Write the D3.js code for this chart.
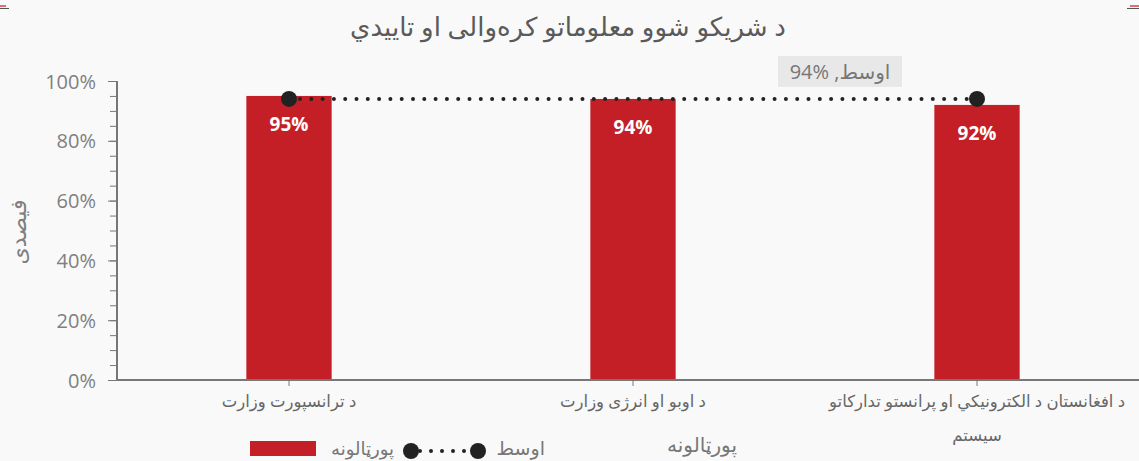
<!DOCTYPE html>
<html><head><meta charset="utf-8">
<script src="https://cdn.jsdelivr.net/npm/d3@7"></script>
<style>
html,body{margin:0;padding:0;background:#f9f9f9;}
svg{display:block;}
text{font-family:"Open Sans","DejaVu Sans",sans-serif;}
</style></head>
<body>
<svg id="c" width="1139" height="461"></svg>
<script>
const title = "د شريکو شوو معلوماتو کره‌والی او تاييدي";
const categories = ["د ترانسپورت وزارت", "د اوبو او انرژی وزارت", "د افغانستان د الکترونيکي او پرانستو تدارکاتو سيستم"];
const categoryLines = [["د ترانسپورت وزارت"], ["د اوبو او انرژی وزارت"], ["د افغانستان د الکترونيکي او پرانستو تدارکاتو", "سيستم"]];
const values = [95, 94, 92];
const average = 94;
const yTicks = [0, 20, 40, 60, 80, 100];
const yMinorTicks = [0,5,10,15,20,25,30,35,40,45,50,55,60,65,70,75,80,85,90,95,100];
const yLabel = "فیصدی";
const seriesName = "پورټالونه";
const avgName = "اوسط";
const legendTitle = "پورټالونه";

const svg = d3.select("#c");
const W = 1139, H = 461;
svg.append("rect").attr("width", W).attr("height", H).attr("fill", "#f9f9f9");

// corner marks
svg.append("rect").attr("x",0).attr("y",5).attr("width",6).attr("height",2).attr("fill","#e07070");
svg.append("rect").attr("x",0).attr("y",8).attr("width",9).attr("height",1).attr("fill","#555");
svg.append("rect").attr("x",1130).attr("y",5).attr("width",9).attr("height",2).attr("fill","#e07070");
svg.append("rect").attr("x",1127).attr("y",8).attr("width",12).attr("height",1).attr("fill","#555");

const x = d3.scaleBand().domain(categories).range([117, 1149]).padding(0);
const y = d3.scaleLinear().domain([0, 100]).range([380, 81]);
const barW = x.bandwidth() * 0.248;
const cx = d => x(d) + x.bandwidth() / 2;

// title
svg.append("text").attr("x", 568).attr("y", 36).attr("text-anchor", "middle")
  .attr("font-family","DejaVu Sans").attr("font-size", 26).attr("fill", "#5a5a5a").text(title);

// y axis
const yAxisMinor = d3.axisLeft(y).tickValues(yMinorTicks).tickSize(7).tickFormat("");
const gyMinor = svg.append("g").attr("transform", "translate(117,0)").call(yAxisMinor);
gyMinor.select(".domain").remove();
gyMinor.selectAll("line").attr("stroke", "#777").attr("stroke-width", 1);

const yAxis = d3.axisLeft(y).tickValues(yTicks).tickSize(9).tickPadding(12).tickFormat(d => d + "%");
const gy = svg.append("g").attr("transform", "translate(117,0)").call(yAxis);
gy.select(".domain").attr("stroke", "#777").attr("stroke-width", 2).attr("d", "M0,81V380");
gy.selectAll("line").attr("stroke", "#777");
gy.selectAll("text").attr("font-size", 20).attr("fill", "#808080").attr("font-family", "Open Sans").attr("dy","0.35em");

// y label
svg.append("text").attr("transform", "translate(26,232) rotate(-90)").attr("text-anchor", "middle")
  .attr("font-family","DejaVu Sans").attr("font-size", 22).attr("fill", "#808080").text(yLabel);

// bars
svg.append("g").selectAll("rect").data(values).join("rect")
  .attr("x", (d, i) => cx(categories[i]) - barW / 2)
  .attr("y", d => y(d)).attr("width", barW).attr("height", d => y(0) - y(d))
  .attr("fill", "#c41f26");

// x axis
const gx = svg.append("g").attr("transform", "translate(0,380)")
  .call(d3.axisBottom(x).tickSize(6).tickFormat(""));
gx.select(".domain").attr("stroke", "#777").attr("stroke-width", 2).attr("d", "M117,0H1139");
gx.selectAll(".tick line").attr("stroke", "#777");

// category labels
categoryLines.forEach((lines, i) => {
  const t = svg.append("text").attr("text-anchor", "middle")
    .attr("font-family","DejaVu Sans").attr("font-size", 16.5).attr("fill", "#666");
  lines.forEach((ln, j) => {
    t.append("tspan").attr("x", cx(categories[i])).attr("y", 407 + j * 34).text(ln);
  });
});

// data labels
svg.append("g").selectAll("text").data(values).join("text")
  .attr("x", (d, i) => cx(categories[i])).attr("y", d => y(d) + 35)
  .attr("text-anchor", "middle").attr("font-family", "Open Sans").attr("font-weight", "bold")
  .attr("font-size", 19).attr("fill", "#fff").text(d => d + "%");

// average line
const x1 = cx(categories[0]), x2 = cx(categories[categories.length - 1]);
svg.append("line").attr("x1", x1 + 11).attr("x2", x2 - 4).attr("y1", y(average)).attr("y2", y(average))
  .attr("stroke", "#222").attr("stroke-width", 4).attr("stroke-linecap", "round").attr("stroke-dasharray", "0 11.3");
[x1, x2].forEach(xx => svg.append("circle").attr("cx", xx).attr("cy", y(average)).attr("r", 8).attr("fill", "#222"));

// average annotation
svg.append("rect").attr("x", 778).attr("y", 56).attr("width", 124).attr("height", 31).attr("fill", "#e8e8e8");
const ann = svg.append("text").attr("x", 840).attr("y", 79).attr("text-anchor", "middle")
  .attr("font-size", 20).attr("fill", "#777");
ann.append("tspan").attr("font-family","Open Sans").text(average + "% ,");
ann.append("tspan").attr("font-family","DejaVu Sans").text(avgName);

// legend
svg.append("rect").attr("x", 250).attr("y", 441).attr("width", 66).attr("height", 15).attr("fill", "#c41f26");
svg.append("text").attr("x", 394).attr("y", 455).attr("text-anchor", "end")
  .attr("font-family","DejaVu Sans").attr("font-size", 18).attr("fill", "#777").text(seriesName);
svg.append("line").attr("x1", 420).attr("x2", 472).attr("y1", 451).attr("y2", 451)
  .attr("stroke", "#222").attr("stroke-width", 4).attr("stroke-linecap", "round").attr("stroke-dasharray", "0 11");
[411, 478].forEach(xx => svg.append("circle").attr("cx", xx).attr("cy", 451).attr("r", 8).attr("fill", "#222"));
svg.append("text").attr("x", 545).attr("y", 455).attr("text-anchor", "end")
  .attr("font-family","DejaVu Sans").attr("font-size", 19).attr("fill", "#777").text(avgName);
svg.append("text").attr("x", 702).attr("y", 452).attr("text-anchor", "middle")
  .attr("font-family","DejaVu Sans").attr("font-size", 20).attr("fill", "#777").text(legendTitle);
</script>
</body></html>
